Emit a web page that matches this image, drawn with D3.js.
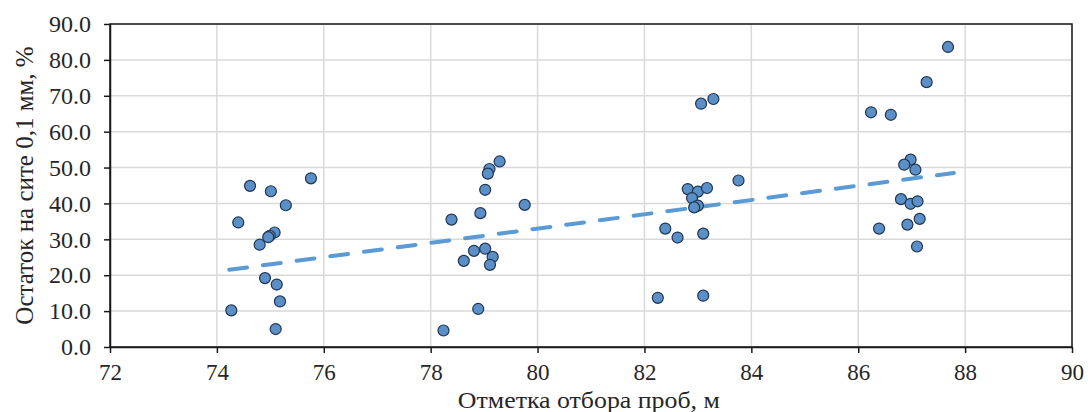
<!DOCTYPE html>
<html>
<head>
<meta charset="utf-8">
<script src="https://cdn.jsdelivr.net/npm/d3@7"></script>
<style>
  body { margin: 0; background: #fff; }
  text { font-family: 'Liberation Serif', 'Times New Roman', serif; fill: #262626; }
</style>
</head>
<body>
<div id="chart"></div>
<script>
// sample elevations (m)
let elevations = [
  74.62, 75.01, 75.29, 75.76, 74.40, 75.08, 74.99, 74.96, 74.80, 74.90, 75.12, 75.18, 74.27, 75.10,
  79.29, 79.10, 79.07, 79.02, 78.93, 78.39, 79.76, 78.81, 79.02, 79.16, 79.11, 78.62, 78.89, 78.24,
  83.06, 83.29, 83.76, 82.81, 83.00, 83.17, 82.89, 83.00, 82.93, 82.39, 82.62, 83.10, 82.25, 83.10,
  87.68, 87.28, 86.24, 86.61, 86.98, 86.86, 87.07, 86.80, 86.98, 87.11, 87.15, 86.92, 86.39, 87.10
]
// residue on 0.1 mm sieve (%)
let residues = [
  44.9, 43.4, 39.5, 47.0, 34.7, 31.9, 31.0, 30.6, 28.5, 19.2, 17.4, 12.7, 10.2, 5.0,
  51.7, 49.6, 48.3, 43.8, 37.3, 35.5, 39.6, 26.8, 27.4, 25.1, 22.9, 24.0, 10.6, 4.6,
  67.8, 69.1, 46.4, 44.0, 43.3, 44.3, 41.5, 39.4, 38.9, 33.0, 30.5, 31.6, 13.7, 14.3,
  83.6, 73.8, 65.4, 64.7, 52.2, 50.8, 49.4, 41.2, 39.9, 40.6, 35.7, 34.1, 33.0, 28.0
]
// linear trend line end points
let trendX = [74.23, 87.79]
let trendY = [21.5, 48.5]

let xTicks = [72, 74, 76, 78, 80, 82, 84, 86, 88, 90]
let yTicks = [0, 10, 20, 30, 40, 50, 60, 70, 80, 90]

let margin = { top: 24, left: 110, right: 16, bottom: 65 }
let width = 1088 - margin.left - margin.right
let height = 412 - margin.top - margin.bottom

let svg = d3
  .select('#chart')
  .append('svg')
  .attr('width', 1088)
  .attr('height', 412)
  .append('g')
  .attr('transform', 'translate(' + margin.left + ',' + margin.top + ')')

let xPositionScale = d3.scaleLinear().domain([72, 90]).range([0, width])
let yPositionScale = d3.scaleLinear().domain([0, 90]).range([height, 0])

// gridlines
svg
  .selectAll('.grid-y')
  .data(yTicks)
  .enter()
  .append('line')
  .attr('class', 'grid-y')
  .attr('x1', 0)
  .attr('x2', width)
  .attr('y1', d => yPositionScale(d))
  .attr('y2', d => yPositionScale(d))
  .attr('stroke', '#d9d9d9')
  .attr('stroke-width', 1.5)

svg
  .selectAll('.grid-x')
  .data(xTicks)
  .enter()
  .append('line')
  .attr('class', 'grid-x')
  .attr('y1', 0)
  .attr('y2', height)
  .attr('x1', d => xPositionScale(d))
  .attr('x2', d => xPositionScale(d))
  .attr('stroke', '#d9d9d9')
  .attr('stroke-width', 1.5)

// frame
svg
  .append('rect')
  .attr('x', 0)
  .attr('y', 0)
  .attr('width', width)
  .attr('height', height)
  .attr('fill', 'none')
  .attr('stroke', '#1a1a1a')
  .attr('stroke-width', 1.5)

let xAxis = d3
  .axisBottom(xPositionScale)
  .tickValues(xTicks)
  .tickFormat(d3.format('d'))
  .tickSizeInner(6)
  .tickSizeOuter(0)
  .tickPadding(11)
svg
  .append('g')
  .attr('class', 'axis x-axis')
  .attr('transform', 'translate(0,' + height + ')')
  .call(xAxis)

let yAxis = d3
  .axisLeft(yPositionScale)
  .tickValues(yTicks)
  .tickFormat(d3.format('.1f'))
  .tickSizeInner(6)
  .tickSizeOuter(0)
  .tickPadding(13)
svg
  .append('g')
  .attr('class', 'axis y-axis')
  .call(yAxis)

svg.selectAll('.axis .domain').attr('stroke', '#1a1a1a').attr('stroke-width', 1.5)
svg.selectAll('.axis line').attr('stroke', '#1a1a1a').attr('stroke-width', 1.5)
svg
  .selectAll('.axis text')
  .attr('font-family', "'Liberation Serif', serif")
  .attr('fill', '#262626')
svg.selectAll('.x-axis text').attr('font-size', 23)
svg.selectAll('.y-axis text').attr('font-size', 24)

// trend line
let line = d3
  .line()
  .x(d => xPositionScale(d[0]))
  .y(d => yPositionScale(d[1]))

svg
  .append('path')
  .datum(d3.zip(trendX, trendY))
  .attr('d', line)
  .attr('fill', 'none')
  .attr('stroke', '#5b9bd5')
  .attr('stroke-width', 4)
  .attr('stroke-dasharray', '18,16')
  .attr('stroke-linecap', 'round')

// points
let points = d3.zip(elevations, residues)
svg
  .selectAll('.point')
  .data(points)
  .enter()
  .append('circle')
  .attr('class', 'point')
  .attr('cx', d => xPositionScale(d[0]))
  .attr('cy', d => yPositionScale(d[1]))
  .attr('r', 5.5)
  .attr('fill', '#5b8fc7')
  .attr('stroke', '#1f3550')
  .attr('stroke-width', 1.2)

// axis titles
svg
  .append('text')
  .attr('x', xPositionScale(80.96))
  .attr('y', height + 61)
  .attr('text-anchor', 'middle')
  .attr('font-size', 23)
  .attr('textLength', 262)
  .attr('lengthAdjust', 'spacingAndGlyphs')
  .text('Отметка отбора проб, м')

svg
  .append('text')
  .attr('transform', 'translate(' + (-77) + ',' + height / 2 + ') rotate(-90)')
  .attr('text-anchor', 'middle')
  .attr('font-size', 25)
  .text('Остаток на сите 0,1 мм, %')
</script>
</body>
</html>
